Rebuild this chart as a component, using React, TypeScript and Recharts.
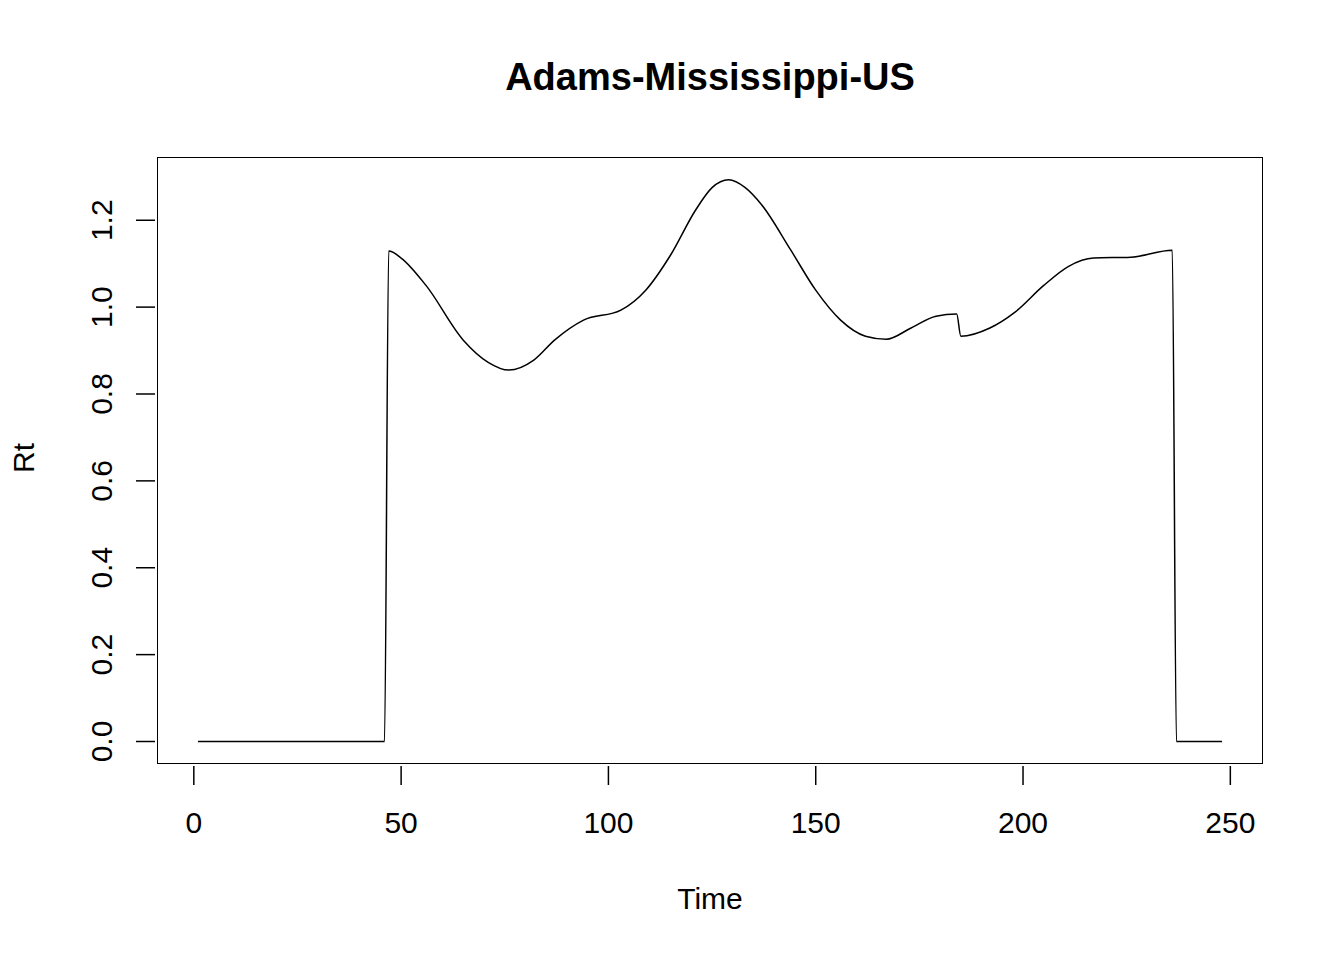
import React from 'react';
import { LineChart, Line, XAxis, YAxis } from 'recharts';

const times = [1, 46, 47, 50, 56, 65, 71, 76, 82, 87, 94, 103, 109, 115, 121, 125, 129, 133, 137, 144, 150, 156, 162, 167, 173, 179, 184, 185, 192, 198, 205, 211, 217, 226, 236, 237, 248];
const rt = [0, 0, 1.129, 1.113, 1.05, 0.924, 0.873, 0.855, 0.878, 0.924, 0.97, 0.993, 1.039, 1.12, 1.223, 1.275, 1.293, 1.275, 1.235, 1.131, 1.039, 0.97, 0.933, 0.926, 0.952, 0.979, 0.984, 0.933, 0.952, 0.988, 1.05, 1.094, 1.113, 1.115, 1.131, 0, 0];
const xTicks = [0, 50, 100, 150, 200, 250];
const yTicks = [0, 0.2, 0.4, 0.6, 0.8, 1.0, 1.2];

const data = times.map((t, i) => ({ t, rt: rt[i] }));
const font = '"Liberation Sans", Arial, sans-serif';

const XTick = (p: any) => (
  <g>
    <line x1={p.x} x2={p.x} y1={p.y} y2={p.y + 19} stroke="#000" strokeWidth={1.5} />
    <text x={p.x} y={p.y + 67} textAnchor="middle" fontSize={30} fontFamily={font} fill="#000">{p.payload.value}</text>
  </g>
);

const YTick = (p: any) => (
  <g>
    <line x1={p.x} x2={p.x - 19} y1={p.y} y2={p.y} stroke="#000" strokeWidth={1.5} />
    <text x={112} y={p.y} transform={`rotate(-90 112 ${p.y})`} textAnchor="middle" fontSize={30} fontFamily={font} fill="#000">{p.payload.value.toFixed(1)}</text>
  </g>
);

export default function App() {
  return (
    <div style={{ position: 'absolute', left: 0, top: 0, width: 1344, height: 960, background: '#fff', fontFamily: font }}>
      <LineChart width={1344} height={960} data={data} margin={{ top: 157, right: 81, bottom: 0, left: 0 }}>
        <XAxis dataKey="t" type="number" domain={[-8.88, 257.88]} ticks={xTicks} axisLine={false} tickLine={false} tickSize={0} height={196} tick={<XTick />} interval={0} />
        <YAxis type="number" domain={[-0.0518, 1.3456]} ticks={yTicks} axisLine={false} tickLine={false} tickSize={0} width={157} tick={<YTick />} interval={0} />
        <Line dataKey="rt" type="monotone" stroke="#000" strokeWidth={1.5} dot={false} isAnimationActive={false} />
      </LineChart>
      <div style={{ position: 'absolute', left: 157, top: 157, width: 1106, height: 607, border: '1.5px solid #000', boxSizing: 'border-box' }} />
      <div style={{ position: 'absolute', left: 0, width: 1420, top: 56, textAlign: 'center', fontSize: 38, fontWeight: 'bold' }}>Adams-Mississippi-US</div>
      <div style={{ position: 'absolute', left: 0, width: 1420, top: 882, textAlign: 'center', fontSize: 30 }}>Time</div>
      <div style={{ position: 'absolute', left: 24, top: 458, fontSize: 30, transform: 'translate(-50%, -50%) rotate(-90deg)' }}>Rt</div>
    </div>
  );
}
